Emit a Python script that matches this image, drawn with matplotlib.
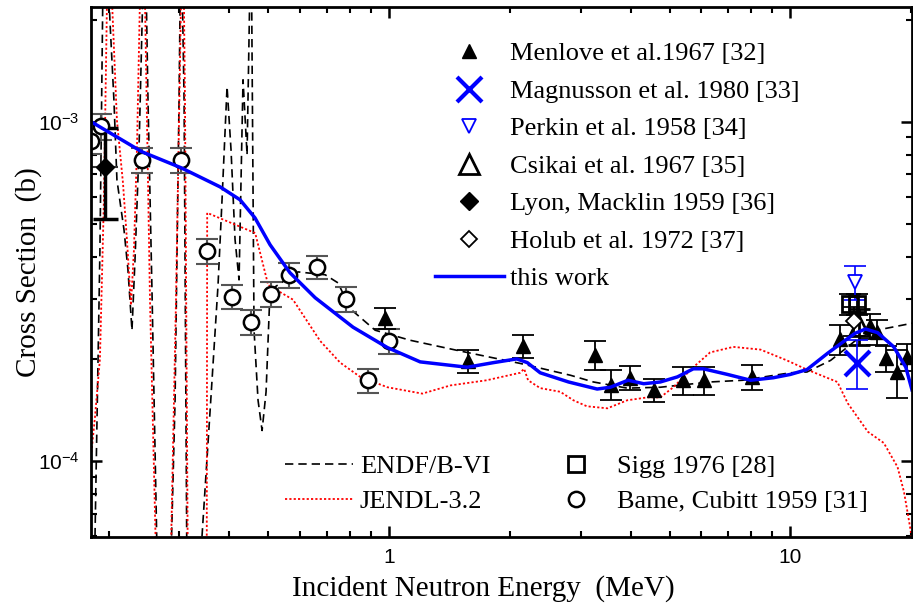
import numpy as np
import matplotlib
matplotlib.use('Agg')
import matplotlib.pyplot as plt
from matplotlib.ticker import LogLocator, NullFormatter, FixedLocator, FixedFormatter

plt.rcParams['font.family'] = ['Liberation Serif', 'DejaVu Serif']
plt.rcParams['mathtext.fontset'] = 'custom'
plt.rcParams['mathtext.rm'] = 'Liberation Sans'
plt.rcParams['mathtext.it'] = 'Liberation Sans'

# ---- evaluations (MeV, barn) ----
endf_e = [0.1849, 0.1902, 0.1935, 0.1969, 0.2014, 0.2061, 0.2097, 0.2184, 0.2234, 0.2286,
          0.2326, 0.238, 0.2435, 0.2463, 0.2506, 0.2564, 0.2638, 0.27, 0.2844, 0.2927,
          0.2995, 0.303, 0.3083, 0.3136, 0.332, 0.3417, 0.3577, 0.3746, 0.3833, 0.3945,
          0.4036, 0.413, 0.4226, 0.4324, 0.4425, 0.4528, 0.4606, 0.4713, 0.4824, 0.4935,
          0.5049, 0.593, 0.693, 0.746, 0.80, 0.923, 1.128, 1.503, 2.12, 2.83,
          3.23, 3.92, 4.74, 6.31, 7.6, 10.0, 11.0, 12.6, 13.9, 14.9, 16.7, 20.2]
endf_xs = [6e-5, 4.19e-4, 2.5e-3, 4e-3, 2.0e-3, 1.16e-3, 6.74e-4, 4.8e-4, 3.66e-4, 2.43e-4,
           3.92e-4, 8.27e-4, 2.5e-3, 4e-3, 1.16e-3, 3.19e-4, 5.5e-5, 4e-5, 4e-5, 1.5e-4,
           1.16e-3, 4e-3, 1.16e-3, 4e-5, 4e-5, 6e-5, 1.39e-4, 3.3e-4, 5.89e-4, 1.27e-3,
           8.27e-4, 4.5e-4, 3.42e-4, 1.33e-3, 8.0e-4, 4e-3, 2.43e-4, 1.51e-4, 1.23e-4, 1.6e-4,
           3.19e-4, 3.61e-4, 3.54e-4, 3.35e-4, 2.81e-4, 2.43e-4, 2.27e-4, 2.11e-4, 1.94e-4, 1.79e-4,
           1.71e-4, 1.64e-4, 1.65e-4, 1.71e-4, 1.73e-4, 1.82e-4, 1.83e-4, 1.98e-4, 2.17e-4, 2.32e-4,
           2.44e-4, 2.55e-4]

jendl_e = [0.1807, 0.1849, 0.1902, 0.1946, 0.1981, 0.2007, 0.2038, 0.2097, 0.2171, 0.2221,
           0.2273, 0.2312, 0.2352, 0.2393, 0.2421, 0.2463, 0.2535, 0.2638, 0.2844, 0.2943,
           0.303, 0.3064, 0.3099, 0.3153, 0.351, 0.352, 0.4636, 0.4996, 0.576, 0.673,
           0.755, 0.847, 0.99, 1.21, 1.42, 1.75, 2.12, 2.17, 2.22, 2.38,
           2.67, 2.88, 3.11, 3.5, 3.92, 4.4, 4.74, 5.11, 5.73, 6.31,
           7.21, 8.43, 9.8, 11.0, 13.1, 13.9, 15.6, 17.1, 18.5, 19.2, 19.7, 20.1]
jendl_xs = [1.03e-4, 1.35e-4, 2.0e-4, 5.89e-4, 2.29e-3, 4e-3, 2.29e-3, 1.01e-3, 6.6e-4, 4.49e-4,
            2.88e-4, 4.19e-4, 8.27e-4, 2.29e-3, 4e-3, 2.29e-3, 2.98e-4, 4e-5, 4e-5, 2.98e-4,
            2.29e-3, 4e-3, 1.16e-3, 4e-5, 4e-5, 5.39e-4, 4.7e-4, 3.3e-4, 2.99e-4, 2.26e-4,
            1.95e-4, 1.77e-4, 1.65e-4, 1.58e-4, 1.67e-4, 1.73e-4, 1.82e-4, 1.87e-4, 1.73e-4, 1.64e-4,
            1.6e-4, 1.51e-4, 1.45e-4, 1.43e-4, 1.51e-4, 1.54e-4, 1.54e-4, 1.65e-4, 1.89e-4, 2.09e-4,
            2.17e-4, 2.13e-4, 1.98e-4, 1.86e-4, 1.71e-4, 1.48e-4, 1.22e-4, 1.13e-4, 9.6e-5, 8.1e-5,
            6.8e-5, 5.9e-5]

work_e = [0.181, 0.242, 0.303, 0.379, 0.425, 0.463, 0.505, 0.566, 0.654, 0.813,
          0.99, 1.195, 1.565, 1.82, 2.08, 2.21, 2.38, 2.8, 3.3, 3.56,
          3.94, 4.31, 4.74, 5.23, 5.73, 6.07, 6.97, 7.96, 9.07, 10.0,
          11.0, 12.4, 13.5, 14.5, 15.4, 16.5, 18.1, 19.4, 20.1]
work_xs = [1.0e-3, 8.16e-4, 7.32e-4, 6.43e-4, 5.89e-4, 5.21e-4, 4.34e-4, 3.59e-4, 3.03e-4, 2.48e-4,
           2.16e-4, 1.96e-4, 1.89e-4, 1.95e-4, 2.0e-4, 1.95e-4, 1.82e-4, 1.71e-4, 1.63e-4, 1.65e-4,
           1.73e-4, 1.69e-4, 1.71e-4, 1.77e-4, 1.87e-4, 1.87e-4, 1.80e-4, 1.73e-4, 1.76e-4, 1.80e-4,
           1.86e-4, 2.08e-4, 2.24e-4, 2.38e-4, 2.45e-4, 2.39e-4, 2.17e-4, 1.89e-4, 1.62e-4]

# ---- measurements ----
bame_e = [0.181, 0.191, 0.242, 0.303, 0.352, 0.406, 0.453, 0.508, 0.563, 0.661, 0.781, 1.0, 0.887]
bame_xs = [8.8e-4, 9.7e-4, 7.7e-4, 7.7e-4, 4.16e-4, 3.05e-4, 2.57e-4, 3.11e-4, 3.54e-4, 3.73e-4,
           3.0e-4, 2.26e-4, 1.73e-4]
bame_err = [0.75e-4, 0.85e-4, 0.65e-4, 0.65e-4, 0.35e-4, 0.25e-4, 0.22e-4, 0.26e-4, 0.3e-4, 0.3e-4,
            0.25e-4, 0.19e-4, 0.14e-4]

menlove_e = [0.978, 1.57, 2.16, 3.26, 3.58, 3.99, 4.58, 5.41, 6.1, 8.04,
             13.3, 15.8, 16.4, 17.3, 18.4, 19.5]
menlove_xs = [2.64e-4, 1.97e-4, 2.18e-4, 2.06e-4, 1.68e-4, 1.76e-4, 1.62e-4, 1.73e-4, 1.73e-4, 1.77e-4,
              2.29e-4, 2.5e-4, 2.4e-4, 2.01e-4, 1.83e-4, 2.03e-4]
menlove_err = [0.19e-4, 0.15e-4, 0.17e-4, 0.2e-4, 0.17e-4, 0.14e-4, 0.13e-4, 0.16e-4, 0.16e-4, 0.15e-4,
               0.23e-4, 0.21e-4, 0.2e-4, 0.18e-4, 0.3e-4, 0.19e-4]

magnusson_e = [14.7]
magnusson_xs = [1.95e-4]
magnusson_err = [0.32e-4]

perkin_e = [14.5]
perkin_xs = [3.37e-4]
perkin_err = [0.38e-4]

csikai_e = [14.8]
csikai_xs = [2.5e-4]
csikai_err = [0.3e-4]

lyon_e = [0.196]
lyon_xs = [7.36e-4]
lyon_err = [2.2e-4]
lyon_eerr = [0.015]

holub_e = [14.4]
holub_xs = [2.59e-4]
holub_err = [0.25e-4]

sigg_e = [14.1, 14.7]
sigg_xs = [2.9e-4, 2.9e-4]
sigg_err = [0.2e-4, 0.2e-4]

fig = plt.figure(figsize=(9.13, 6.09), dpi=100)
ax = fig.add_axes([91 / 913, 1 - 537 / 609, 821 / 913, 530 / 609])

ax.plot(endf_e, endf_xs, color='black', ls=(0, (5, 3)), lw=1.2, label='ENDF/B-VI')
ax.plot(jendl_e, jendl_xs, color='red', ls=(0, (1.2, 1.2)), lw=1.3, label='JENDL-3.2')

# error bars
ax.errorbar(bame_e, bame_xs, yerr=bame_err, fmt='none', ecolor='#555555', elinewidth=1.5, capsize=8, capthick=1.5)
ax.errorbar(menlove_e, menlove_xs, yerr=menlove_err, fmt='none', ecolor='black', elinewidth=1.3, capsize=8, capthick=1.3)
ax.errorbar(sigg_e, sigg_xs, yerr=sigg_err, fmt='none', ecolor='black', elinewidth=1.3, capsize=8, capthick=1.3)
ax.errorbar(holub_e, holub_xs, yerr=holub_err, fmt='none', ecolor='black', elinewidth=1.3, capsize=8, capthick=1.3)
ax.errorbar(csikai_e, csikai_xs, yerr=csikai_err, fmt='none', ecolor='black', elinewidth=2, capsize=8, capthick=2)
ax.errorbar(perkin_e, perkin_xs, yerr=perkin_err, fmt='none', ecolor='blue', elinewidth=1.2, capsize=8, capthick=1.2)
ax.errorbar(magnusson_e, magnusson_xs, yerr=magnusson_err, fmt='none', ecolor='blue', elinewidth=1.2, capsize=8, capthick=1.2)
ax.errorbar(lyon_e, lyon_xs, yerr=lyon_err, fmt='none', ecolor='black', elinewidth=2.5, capsize=9, capthick=2.5)
ax.errorbar(lyon_e, lyon_xs, xerr=lyon_eerr, fmt='none', ecolor='#333333', elinewidth=1.5, capsize=0)

# markers
h_men, = ax.plot(menlove_e, menlove_xs, '^', color='black', ms=10, ls='none', label='Menlove et al.1967 [32]')
h_mag, = ax.plot(magnusson_e, magnusson_xs, 'x', color='blue', ms=18, mew=3, ls='none', label='Magnusson et al. 1980 [33]')
h_per, = ax.plot(perkin_e, perkin_xs, 'v', mfc='white', mec='blue', ms=10, mew=1.3, ls='none', label='Perkin et al. 1958 [34]')
h_csi, = ax.plot(csikai_e, csikai_xs, '^', mfc='none', mec='black', ms=15, mew=2, ls='none', label='Csikai et al. 1967 [35]')
h_lyo, = ax.plot(lyon_e, lyon_xs, 'D', color='black', ms=9, ls='none', label='Lyon, Macklin 1959 [36]')
h_hol, = ax.plot(holub_e, holub_xs, 'D', mfc='white', mec='black', ms=8, mew=1.3, ls='none', label='Holub et al. 1972 [37]')
h_sig, = ax.plot(sigg_e, sigg_xs, 's', mfc='none', mec='black', ms=12, mew=2, ls='none', label='Sigg 1976 [28]')
h_bam, = ax.plot(bame_e, bame_xs, 'o', mfc='white', mec='black', ms=11, mew=1.8, ls='none', label='Bame, Cubitt 1959 [31]')
h_work, = ax.plot(work_e, work_xs, color='blue', lw=2.5, label='this work')

ax.set_xscale('log')
ax.set_yscale('log')
ax.set_xlim(0.1807, 20.1)
ax.set_ylim(5.97e-5, 2.18e-3)

ax.xaxis.set_major_locator(FixedLocator([1, 10]))
ax.xaxis.set_major_formatter(FixedFormatter(['1', '10']))
ax.xaxis.set_minor_locator(LogLocator(base=10, subs=np.arange(2, 10)))
ax.xaxis.set_minor_formatter(NullFormatter())
ax.yaxis.set_major_locator(LogLocator(base=10))
ax.yaxis.set_minor_locator(LogLocator(base=10, subs=np.arange(2, 10)))
ax.yaxis.set_minor_formatter(NullFormatter())

ax.tick_params(which='both', direction='in', top=True, right=True)
ax.tick_params(which='major', length=8, width=1.8, labelsize=15, pad=8)
ax.tick_params(which='minor', length=4.5, width=1.5)
for lab in ax.get_xticklabels() + ax.get_yticklabels():
    lab.set_fontfamily('Liberation Sans')
for sp in ax.spines.values():
    sp.set_linewidth(2)

ax.set_xlabel('Incident Neutron Energy  (MeV)', fontsize=21)
ax.set_ylabel('Cross Section  (b)', fontsize=21)
ax.xaxis.set_label_coords(0.478, -0.072)
ax.yaxis.set_label_coords(-0.06, 0.5)

leg1 = ax.legend(handles=[h_men, h_mag, h_per, h_csi, h_lyo, h_hol, h_work],
                 loc='upper left', bbox_to_anchor=(0.419, 0.934), frameon=False, fontsize=19,
                 handlelength=2.6, handletextpad=0.25, labelspacing=0.53, borderpad=0, borderaxespad=0)
ax.add_artist(leg1)
leg2 = ax.legend(handles=[ax.lines[0], ax.lines[1]],
                 loc='lower left', bbox_to_anchor=(0.236, 0.045), frameon=False, fontsize=19,
                 handlelength=2.6, handletextpad=0.25, labelspacing=0.44, borderpad=0, borderaxespad=0)
ax.add_artist(leg2)
ax.legend(handles=[h_sig, h_bam],
          loc='lower left', bbox_to_anchor=(0.549, 0.045), frameon=False, fontsize=19,
          handlelength=2.6, handletextpad=0.25, labelspacing=0.44, borderpad=0, borderaxespad=0)

plt.savefig('out.png', dpi=100)
